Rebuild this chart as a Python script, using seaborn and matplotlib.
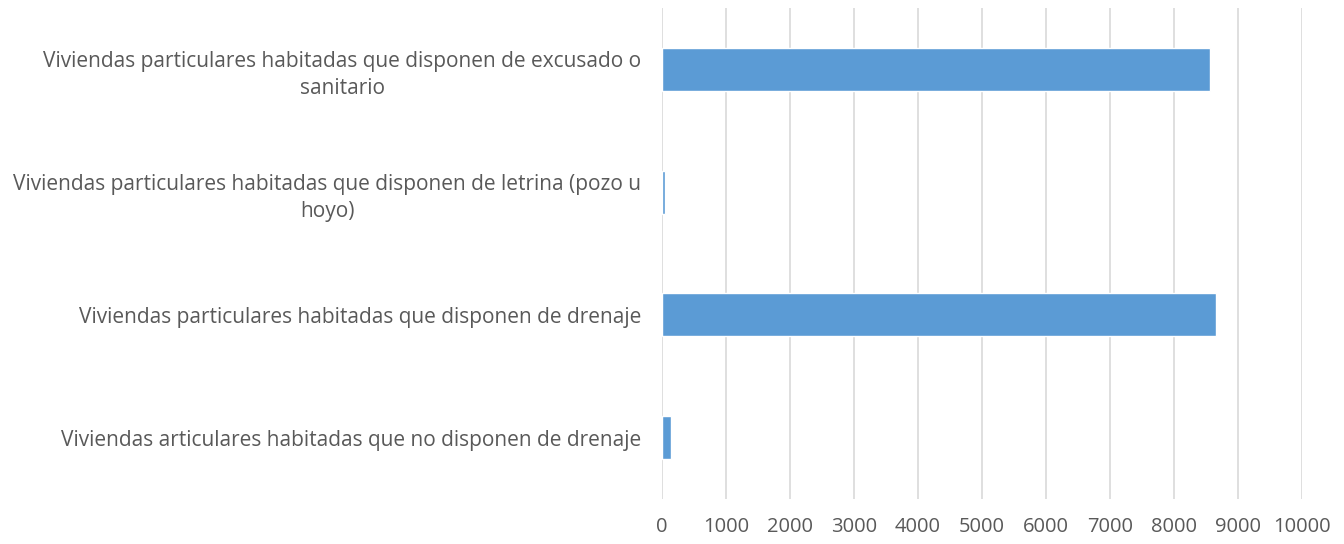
import matplotlib
matplotlib.use("Agg")
import matplotlib.pyplot as plt
import seaborn as sns
import pandas as pd

categories = [
    "Viviendas particulares habitadas que disponen de excusado o\nsanitario",
    "Viviendas particulares habitadas que disponen de letrina (pozo u\nhoyo)",
    "Viviendas particulares habitadas que disponen de drenaje",
    "Viviendas articulares habitadas que no disponen de drenaje",
]
values = [8562, 45, 8660, 136]
xticks = list(range(0, 10001, 1000))

sns.set_theme(style="white")
plt.rcParams['font.family'] = ['Open Sans', 'DejaVu Sans']

df = pd.DataFrame({"cat": categories, "val": values})

fig = plt.figure(figsize=(13.44, 5.44), dpi=100)
ax = fig.add_axes([0.4926, 0.0827, 0.4762, 0.9023])
sns.barplot(data=df, y="cat", x="val", orient="h", color="#5B9BD5",
            saturation=1, width=0.35, ax=ax, zorder=3)
ax.set_xlim(0, 10000)
ax.set_xticks(xticks)
ax.set_xticklabels([str(t) for t in xticks])
ax.set_xlabel("")
ax.set_ylabel("")
ax.grid(axis="x", color="#D9D9D9", linewidth=1.2, zorder=0)
ax.grid(axis="y", visible=False)
for s in ax.spines.values():
    s.set_visible(False)
ax.tick_params(axis="x", length=0, pad=13, labelsize=14.5, labelcolor="#595959")
ax.tick_params(axis="y", length=0, pad=15, labelsize=15, labelcolor="#595959")
for lab in ax.get_yticklabels():
    lab.set_multialignment("center")
    lab.set_linespacing(1.4)
fig.savefig("out.png", dpi=100)
